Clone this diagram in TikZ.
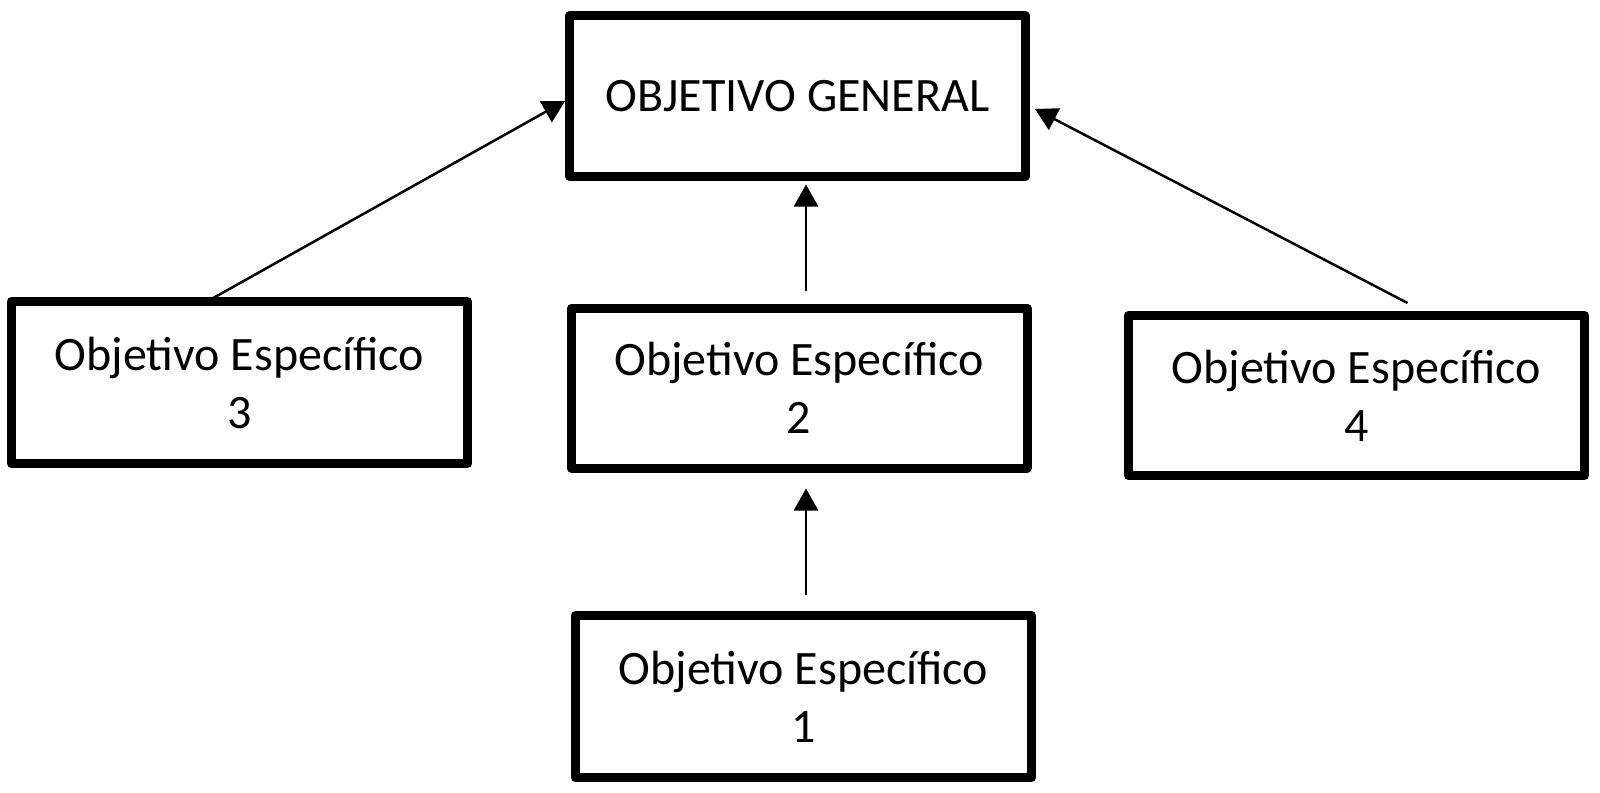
\documentclass[tikz,border=0pt]{standalone}
\usepackage{fontspec}
\setmainfont{Carlito}
\usetikzlibrary{arrows.meta,calc}
\tikzset{
  objbox/.style={draw=black, line width=9pt, line join=round, minimum width=456pt,
    minimum height=160pt, inner sep=0pt, align=center,
    font=\fontsize{48}{58}\selectfont},
  conn/.style={draw=black, line width=2.5pt, -{Triangle[length=22pt,width=24pt]}}
}
\begin{document}
\begin{tikzpicture}[x=1pt,y=-1pt]
\useasboundingbox (0,0) rectangle (1600,792);
\node[objbox] (G) at (797.5,96) {OBJETIVO GENERAL};
\node[objbox, minimum height=162pt] (E3) at (239.5,382.5) {Objetivo Específico\\3};
\node[objbox] (E2) at (799,388) {Objetivo Específico\\2};
\node[objbox] (E4) at (1356.5,395.5) {Objetivo Específico\\4};
\node[objbox, minimum height=162pt] (E1) at (803.5,696.5) {Objetivo Específico\\1};
\coordinate (s3) at ($(E3.north)+(-28,2)$);
\coordinate (t3) at ($(G.west)+(0,5)$);
\coordinate (s4) at ($(E4.north)+(51,-8)$);
\coordinate (t4) at ($(G.east)+(5,13)$);
\coordinate (s2) at ($(E2.north)+(7,-13)$);
\coordinate (t2) at ($(G.south)+(8.5,4)$);
\coordinate (s1) at ($(E1.north)+(2.5,-16)$);
\coordinate (t1) at ($(E2.south)+(7,16)$);
\draw[conn] (s3) -- (t3);
\draw[conn] (s4) -- (t4);
\draw[conn] (s2) -- (t2);
\draw[conn] (s1) -- (t1);
\end{tikzpicture}
\end{document}
